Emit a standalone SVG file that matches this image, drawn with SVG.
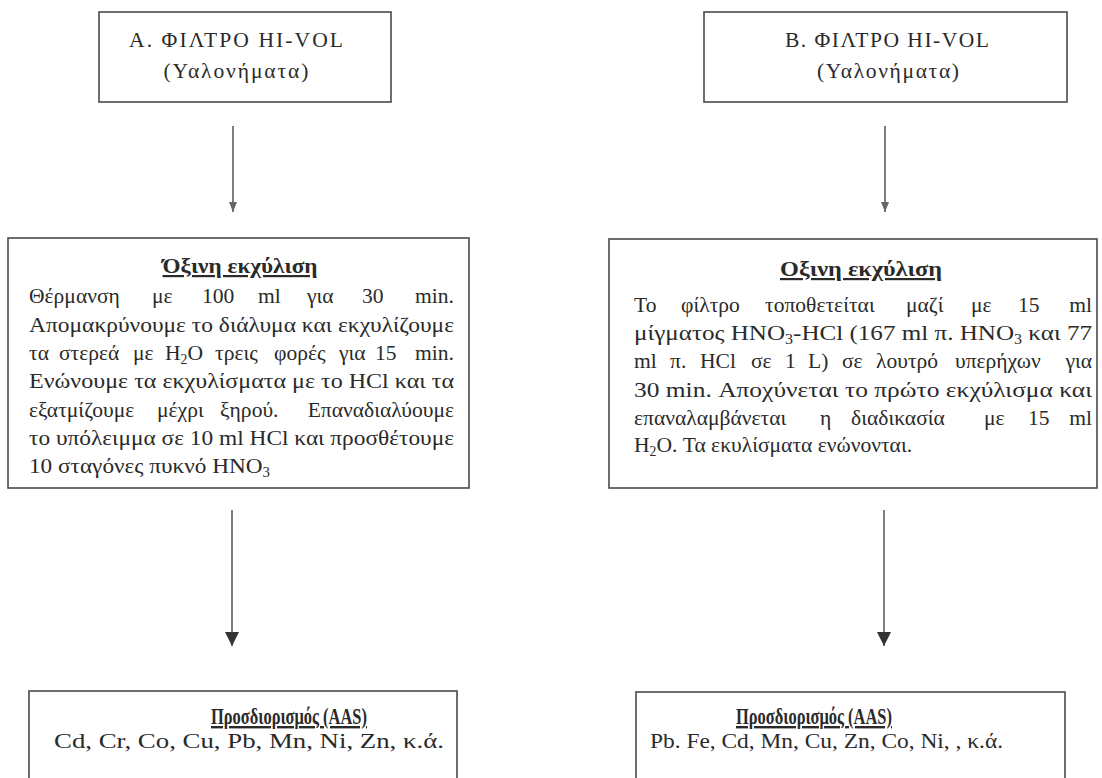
<svg xmlns="http://www.w3.org/2000/svg" width="1102" height="778" viewBox="0 0 1102 778">
  <defs>
    <style>
      .box { fill: #ffffff; stroke: #4a4a4a; stroke-width: 1.6; }
      .t { font-family: "Liberation Serif", "DejaVu Serif", "Times New Roman", serif; font-size: 22px; font-size-adjust: 0.45; fill: #2a2a2a; }
      .c { text-anchor: middle; }
      .e { text-anchor: end; }
      .h { font-weight: bold; text-decoration: underline; }
      .big { font-size: 24px; }
      .sub { font-size: 14px; }
      .wire { stroke: #3a3a3a; stroke-width: 1.3; fill: none; }
    </style>
    <marker id="head" viewBox="0 0 14 14" refX="14" refY="7" markerWidth="14" markerHeight="14" markerUnits="userSpaceOnUse" orient="auto">
      <path d="M0,0 L14,7 L0,14 Z" fill="#333333"/>
    </marker>
    <marker id="headSmall" viewBox="0 0 10 8" refX="10" refY="4" markerWidth="10" markerHeight="8" markerUnits="userSpaceOnUse" orient="auto">
      <path d="M0,0 L10,4 L0,8 Z" fill="#666666"/>
    </marker>
  </defs>

  <rect width="1102" height="778" fill="#ffffff"/>

  <!-- connectors -->
  <g id="connectors">
    <path class="wire" d="M233,126 V212" marker-end="url(#headSmall)"/>
    <path class="wire" d="M885,126 V212" marker-end="url(#headSmall)"/>
    <path class="wire" d="M232,510 V646" marker-end="url(#head)"/>
    <path class="wire" d="M884,510 V646" marker-end="url(#head)"/>
  </g>

  <!-- filter A -->
  <g id="filter-a">
    <rect class="box" x="99" y="12" width="292" height="90"/>
    <text class="t c" x="236" y="47" textLength="214" lengthAdjust="spacing">Α. ΦΙΛΤΡΟ HI-VOL</text>
    <text class="t c" x="236" y="78" textLength="145" lengthAdjust="spacing">(Υαλονήματα)</text>
  </g>

  <!-- filter B -->
  <g id="filter-b">
    <rect class="box" x="704" y="12" width="363" height="90"/>
    <text class="t c" x="887" y="47" textLength="204" lengthAdjust="spacing">Β. ΦΙΛΤΡΟ HI-VOL</text>
    <text class="t c" x="888" y="78" textLength="142" lengthAdjust="spacing">(Υαλονήματα)</text>
  </g>

  <!-- extraction A: justified paragraph, words placed on the measure 29..454 -->
  <g id="extraction-a">
    <rect class="box" x="8" y="238" width="461" height="250"/>
    <text class="t c h" x="240" y="273" textLength="155" lengthAdjust="spacingAndGlyphs">Όξινη εκχύλιση</text>
    <text class="t" y="303"><tspan x="29">Θέρμανση</tspan><tspan x="152">με</tspan><tspan x="202">100</tspan><tspan x="258">ml</tspan><tspan x="307">για</tspan><tspan x="362">30</tspan></text>
    <text class="t e" x="454" y="303">min.</text>
    <text class="t" x="29" y="332" textLength="425" lengthAdjust="spacingAndGlyphs">Απομακρύνουμε το διάλυμα και εκχυλίζουμε</text>
    <text class="t" y="360"><tspan x="29">τα</tspan><tspan x="59">στερεά</tspan><tspan x="133">με</tspan><tspan x="165">H</tspan><tspan class="sub" dy="4">2</tspan><tspan dy="-4">O</tspan><tspan x="215">τρεις</tspan><tspan x="274">φορές</tspan><tspan x="339">για</tspan><tspan x="375">15</tspan></text>
    <text class="t e" x="454" y="360">min.</text>
    <text class="t" x="29" y="388" textLength="425" lengthAdjust="spacingAndGlyphs">Ενώνουμε τα εκχυλίσματα με το HCl και τα</text>
    <text class="t" y="417"><tspan x="29">εξατμίζουμε</tspan><tspan x="157">μέχρι</tspan><tspan x="220">ξηρού.</tspan></text>
    <text class="t e" x="454" y="417">Επαναδιαλύουμε</text>
    <text class="t" x="29" y="445" textLength="425" lengthAdjust="spacingAndGlyphs">το υπόλειμμα σε 10 ml HCl και προσθέτουμε</text>
    <text class="t" x="29" y="473" textLength="241" lengthAdjust="spacingAndGlyphs">10 σταγόνες πυκνό HNO<tspan class="sub" dy="4">3</tspan></text>
  </g>

  <!-- extraction B: justified paragraph, measure 635..1092 -->
  <g id="extraction-b">
    <rect class="box" x="609" y="239" width="488" height="249"/>
    <text class="t c h" x="861" y="276" textLength="162" lengthAdjust="spacingAndGlyphs">Οξινη εκχύλιση</text>
    <text class="t" y="312"><tspan x="634">Το</tspan><tspan x="681">φίλτρο</tspan><tspan x="765">τοποθετείται</tspan><tspan x="906">μαζί</tspan><tspan x="971">με</tspan><tspan x="1018">15</tspan></text>
    <text class="t e" x="1092" y="312">ml</text>
    <text class="t" x="634" y="340" textLength="458" lengthAdjust="spacingAndGlyphs">μίγματος HNO<tspan class="sub" dy="4">3</tspan><tspan dy="-4">-HCl (167 ml π. HNO</tspan><tspan class="sub" dy="4">3</tspan><tspan dy="-4"> και 77</tspan></text>
    <text class="t" y="368"><tspan x="634">ml</tspan><tspan x="670">π.</tspan><tspan x="700">HCl</tspan><tspan x="751">σε</tspan><tspan x="785">1</tspan><tspan x="808">L)</tspan><tspan x="842">σε</tspan><tspan x="876">λουτρό</tspan><tspan x="955">υπερήχων</tspan></text>
    <text class="t e" x="1092" y="368">για</text>
    <text class="t" x="634" y="397" textLength="458" lengthAdjust="spacingAndGlyphs">30 min. Αποχύνεται το πρώτο εκχύλισμα και</text>
    <text class="t" y="425"><tspan x="634">επαναλαμβάνεται</tspan><tspan x="820">η</tspan><tspan x="851">διαδικασία</tspan><tspan x="984">με</tspan><tspan x="1028">15</tspan></text>
    <text class="t e" x="1092" y="425">ml</text>
    <text class="t" x="634" y="452">H<tspan class="sub" dy="4">2</tspan><tspan dy="-4">O. Τα εκυλίσματα ενώνονται.</tspan></text>
  </g>

  <!-- analysis A -->
  <g id="analysis-a">
    <rect class="box" x="29" y="691" width="428" height="110"/>
    <text class="t big c h" x="289" y="724" textLength="156" lengthAdjust="spacingAndGlyphs">Προσδιορισμός (AAS)</text>
    <text class="t" x="54" y="748" textLength="390" lengthAdjust="spacingAndGlyphs">Cd, Cr, Co, Cu, Pb, Mn, Ni, Zn, κ.ά.</text>
  </g>

  <!-- analysis B -->
  <g id="analysis-b">
    <rect class="box" x="636" y="692" width="429" height="110"/>
    <text class="t big c h" x="814" y="724" textLength="156" lengthAdjust="spacingAndGlyphs">Προσδιορισμός (AAS)</text>
    <text class="t" x="650" y="748" textLength="353" lengthAdjust="spacingAndGlyphs">Pb. Fe, Cd, Mn, Cu, Zn, Co, Ni, , κ.ά.</text>
  </g>
</svg>
